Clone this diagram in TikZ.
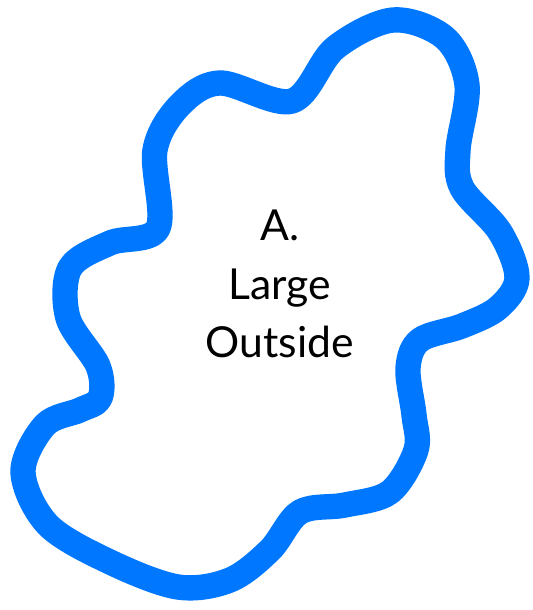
\documentclass[tikz,border=0pt]{standalone}
\usepackage{fontspec}
\setmainfont{Lato}
\definecolor{blobblue}{RGB}{0,119,255}
\begin{document}
\begin{tikzpicture}[x=0.75pt,y=-0.75pt,
  blob/.style={draw=blobblue,line width=19pt,line join=round},
  lbl/.style={align=center,font=\fontsize{32}{44}\selectfont,text=black}]
\useasboundingbox (0,0) rectangle (532,610);
\draw[blob] plot[smooth cycle,tension=0.55] coordinates {
 (393,20) (445,38) (467,85) (458,150) (462,188) (500,232) (517,278)
 (498,308) (462,326) (420,340) (408,368) (414,415) (416,450) (390,492)
 (345,505) (300,512) (270,550) (230,580) (178,587) (110,562) (48,525)
 (23,472) (45,425) (80,410) (100,398) (98,366) (68,318) (70,268)
 (110,243) (158,228) (155,150) (180,105) (220,83) (292,101) (335,48)};
\node[lbl] (t) at (280,284) {A.\\Large\\Outside};
\end{tikzpicture}
\end{document}
